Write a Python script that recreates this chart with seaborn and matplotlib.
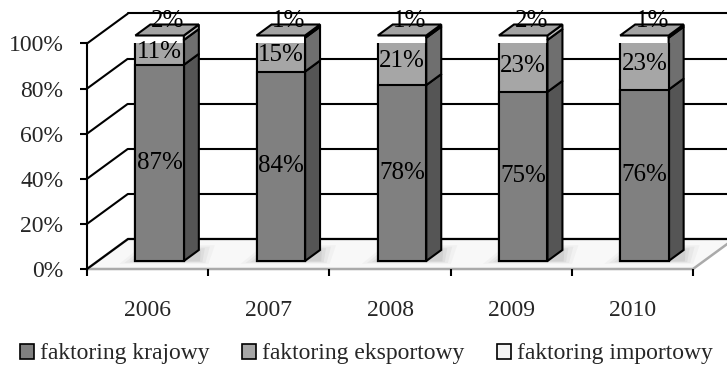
import numpy as np
import pandas as pd
import matplotlib
matplotlib.use("Agg")
import matplotlib.pyplot as plt
from matplotlib.patches import Polygon, Patch
import seaborn as sns

# ---- data ----
years = ["2006", "2007", "2008", "2009", "2010"]
krajowy = [87, 84, 78, 75, 76]
eksportowy = [11, 15, 21, 23, 23]
importowy = [2, 1, 1, 2, 1]
series_names = ["faktoring krajowy", "faktoring eksportowy", "faktoring importowy"]
yticks = [0, 20, 40, 60, 80, 100]
ytick_labels = ["0%", "20%", "40%", "60%", "80%", "100%"]

# ---- styles ----
front_colors = ["#808080", "#a6a6a6", "#f4f4f4"]
side_colors = ["#555555", "#6f6f6f", "#b8b8b8"]
top_color = "#a3a3a3"
legend_colors = ["#808080", "#a6a6a6", "#f4f4f4"]
FS_TICK = 17
FS_VAL = 18
FS_LEG = 17

sns.set_theme(style="white")
plt.rcParams["font.family"] = ["Liberation Serif", "DejaVu Serif"]

W, H = 727, 367
fig = plt.figure(figsize=(W / 100, H / 100), dpi=100)
ax = fig.add_axes([87 / W, (H - 269) / H, (693 - 87) / W, (269 - 43.5) / H])

df = pd.DataFrame({"year": years,
                   "k": krajowy,
                   "e": eksportowy,
                   "i": importowy})
df["ke"] = df["k"] + df["e"]
df["kei"] = df["ke"] + df["i"]

n_before = 0
groups = []
for col, c in zip(["kei", "ke", "k"], front_colors[::-1]):
    sns.barplot(data=df, x="year", y=col, color=c, saturation=1, width=0.4,
                edgecolor="black", linewidth=1.5, ax=ax, zorder=3, errorbar=None)
    groups.append(ax.patches[n_before:])
    n_before = len(ax.patches)

ax.set_xlim(-0.5, len(years) - 0.5)
ax.set_ylim(0, 100)
fig.canvas.draw()


def pxd(dx, dy):
    o = ax.transData.transform((0, 0))
    sx = ax.transData.transform((1, 0))[0] - o[0]
    sy = ax.transData.transform((0, 1))[1] - o[1]
    return dx / sx, dy / sy


# depth offsets (pixels)
WX, WY = pxd(41, 30)      # wall depth
OX, OY = pxd(12, 8)       # bar placement in depth
DX, DY = pxd(15, 11)      # bar depth
x_right = ax.transData.inverted().transform((W + 20, 0))[0]
x0 = -0.5
x1 = len(years) - 0.5

# floor
floor = Polygon([(x0, 0), (x1, 0), (x1 + WX, WY), (x0 + WX, WY)], closed=True,
                facecolor="#f8f8f8", edgecolor="#aaaaaa", linewidth=1.8,
                zorder=0.5, clip_on=False)
ax.add_patch(floor)

# back wall grid + left wall diagonals
for v in yticks:
    ax.plot([x0, x0 + WX], [v, v + WY], color="black", lw=1.5, zorder=1,
            clip_on=False, solid_capstyle="butt")
    ax.plot([x0 + WX, x_right], [v + WY, v + WY], color="black", lw=1.5,
            zorder=1, clip_on=False)

# shift the seaborn bars into depth and add side / top faces
for g in groups:
    for p in g:
        p.set_x(p.get_x() + OX)
        p.set_y(p.get_y() + OY)

bars_ref = groups[0]
for i, p in enumerate(bars_ref):
    xl = p.get_x()
    xr = xl + p.get_width()
    bounds = [0, krajowy[i], krajowy[i] + eksportowy[i],
              krajowy[i] + eksportowy[i] + importowy[i]]
    # soft shadow on floor (layered)
    for k, a in zip([16, 11, 6, 2], [0.10, 0.14, 0.18, 0.25]):
        ex, ey = pxd(k, k * 0.3)
        sh = Polygon([(xl - ex, OY - ey * 0.6), (xr + DX + ex * 0.6, OY - ey * 0.6),
                      (xr + DX + ex, OY + DY + ey), (xl + DX - ex * 0.5, OY + DY + ey)],
                     closed=True, facecolor="#8a8a8a", edgecolor="none", alpha=a * 0.6,
                     zorder=0.8, clip_on=False)
        ax.add_patch(sh)
    for s in range(3):
        b0 = bounds[s] + OY
        b1 = bounds[s + 1] + OY
        side = Polygon([(xr, b0), (xr + DX, b0 + DY), (xr + DX, b1 + DY), (xr, b1)],
                       closed=True, facecolor=side_colors[s], edgecolor="black",
                       linewidth=1.5, zorder=2.5, clip_on=False)
        ax.add_patch(side)
    top = bounds[-1] + OY
    tp = Polygon([(xl, top), (xr, top), (xr + DX, top + DY), (xl + DX, top + DY)],
                 closed=True, facecolor=top_color, edgecolor="black", linewidth=1.5,
                 zorder=2.5, clip_on=False)
    ax.add_patch(tp)
    cx = xl + p.get_width() / 2
    # value labels
    ax.text(cx, OY + krajowy[i] / 2, f"{krajowy[i]}%", ha="center", va="center",
            fontsize=FS_VAL, color="black", zorder=5)
    ax.text(cx, OY + krajowy[i] + eksportowy[i] / 2, f"{eksportowy[i]}%",
            ha="center", va="center", fontsize=FS_VAL, color="black", zorder=5)
    lx, ly = pxd(8, 14)
    ax.text(cx + lx, OY + bounds[-1] + ly, f"{importowy[i]}%", ha="center",
            va="center", fontsize=FS_VAL, color="black", zorder=5)

# axes styling
for sp in ["top", "right", "bottom"]:
    ax.spines[sp].set_visible(False)
ax.spines["left"].set_color("black")
ax.spines["left"].set_linewidth(1.5)
ax.spines["left"].set_zorder(1.2)
ax.set_yticks(yticks)
ax.set_yticklabels(ytick_labels, fontsize=FS_TICK)
ax.set_xticks(np.arange(len(years) + 1) - 0.5)
ax.set_xticklabels([])
ax.set_xticks(np.arange(len(years)), minor=True)
ax.set_xticklabels(years, minor=True, fontsize=FS_TICK)
ax.tick_params(axis="y", which="major", direction="out", length=5, width=1.5,
               color="black", pad=12, left=True)
ax.tick_params(axis="x", which="major", direction="out", length=5, width=1.5,
               color="black", bottom=True)
ax.tick_params(axis="x", which="minor", length=0, pad=22, bottom=True)
ax.set_xlabel("")
ax.set_ylabel("")
ax.grid(False)
ax.set_facecolor("none")

handles = [Patch(facecolor=c, edgecolor="black", linewidth=1.2) for c in legend_colors]
fig.legend(handles, series_names, loc="center", bbox_to_anchor=(0.504, 13 / H), ncol=3,
           frameon=False, fontsize=FS_LEG, handlelength=0.6, handleheight=0.6,
           handletextpad=0.25, columnspacing=1.37, borderaxespad=0)

fig.savefig("out.png", dpi=100, facecolor="white")
